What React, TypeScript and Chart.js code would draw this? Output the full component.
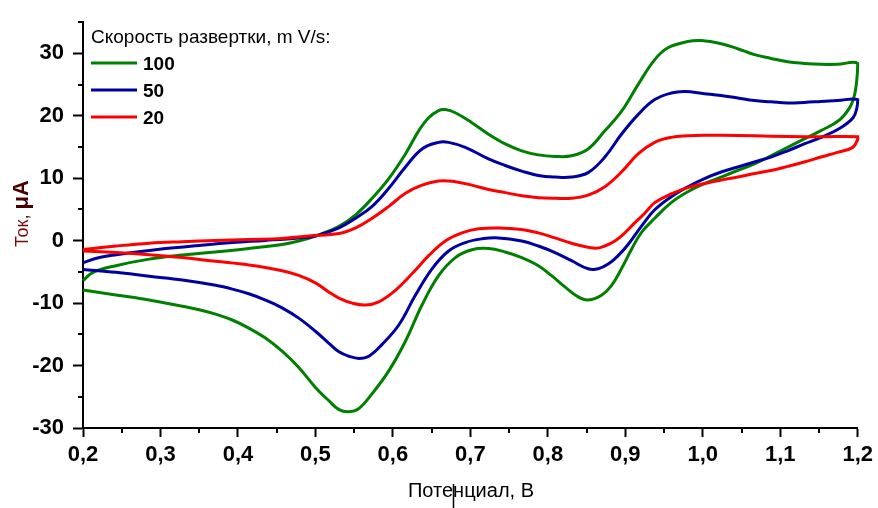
import React, { useEffect, useRef } from "react";
import { Chart, registerables } from "chart.js";

Chart.register(...registerables);

// ---- Data (potential, V / current, µA) — each loop: forward sweep then reverse ----
const seriesLabels = ["100", "50", "20"];
const seriesColors = ["#008000", "#0000A0", "#FF0000"];

const v100 = [
  0.2, 0.2125, 0.2425, 0.2855, 0.328, 0.371, 0.414, 0.457, 0.4785, 0.5, 0.5304, 0.5519, 0.5732, 0.5947, 0.6162, 0.6333,
  0.6462, 0.659, 0.6677, 0.6806, 0.7019, 0.7234, 0.7449, 0.7663, 0.7878, 0.8093, 0.8306, 0.852, 0.8736, 0.895, 0.9165,
  0.938, 0.9551, 0.9808, 0.998, 1.0237, 1.0452, 1.0667, 1.088, 1.1095, 1.131, 1.1524, 1.1738, 1.2,
  1.199, 1.196, 1.19, 1.176, 1.152, 1.131, 1.1095, 1.088, 1.0667, 1.0452, 1.0237, 1.0023, 0.9808, 0.9593, 0.938, 0.9207,
  0.9079, 0.895, 0.8821, 0.8693, 0.852, 0.8392, 0.8221, 0.8049, 0.7878, 0.7663, 0.7449, 0.7234, 0.7019, 0.6806, 0.659,
  0.6376, 0.6162, 0.5947, 0.5732, 0.556, 0.5432, 0.5304, 0.5171, 0.5, 0.4785, 0.457, 0.4355, 0.414, 0.3927, 0.3712,
  0.35, 0.3283, 0.2855, 0.2425, 0.2,
];
const i100 = [
  -6.4, -5.1, -4.0, -2.95, -2.3, -1.8, -1.25, -0.6, -0.05, 0.75, 2.3, 4.15, 6.8, 9.95, 13.9, 17.6,
  19.7, 20.85, 21.0, 20.5, 18.9, 17.05, 15.5, 14.4, 13.75, 13.5, 13.6, 14.7, 17.6, 20.7, 25.0,
  29.0, 30.9, 31.9, 32.05, 31.55, 30.75, 29.8, 29.2, 28.65, 28.4, 28.25, 28.25, 28.4,
  26.0, 23.4, 21.4, 19.3, 17.6, 16.3, 14.95, 13.6, 12.3, 11.25, 10.2, 9.15, 7.85, 6.1, 3.6, 1.3,
  -1.4, -4.5, -7.2, -8.75, -9.5, -9.0, -7.4, -5.6, -4.0, -2.7, -1.8, -1.25, -1.45, -2.7, -5.6,
  -10.3, -16.1, -20.85, -24.5, -26.9, -27.4, -27.05, -25.6, -23.5, -20.3, -17.7, -15.6, -14.0, -12.7, -11.75,
  -11.05, -10.5, -9.5, -8.7, -7.9,
];

const v50 = [
  0.2, 0.2211, 0.264, 0.3068, 0.3498, 0.3927, 0.4355, 0.4785, 0.5, 0.5304, 0.5519, 0.5732, 0.5947, 0.6162, 0.6376, 0.659,
  0.6719, 0.6934, 0.7234, 0.7449, 0.7663, 0.7878, 0.8093, 0.8306, 0.852, 0.8736, 0.895, 0.9165, 0.938, 0.9593, 0.9766,
  1.0023, 1.0237, 1.0452, 1.0667, 1.088, 1.1095, 1.131, 1.1524, 1.1738, 1.2,
  1.199, 1.194, 1.178, 1.152, 1.131, 1.1095, 1.088, 1.0667, 1.0452, 1.0237, 1.0023, 0.9808, 0.9593, 0.938, 0.9207,
  0.9036, 0.8907, 0.8779, 0.865, 0.852, 0.8306, 0.8093, 0.7878, 0.7663, 0.7362, 0.7148, 0.6934, 0.6719, 0.6505, 0.629,
  0.6076, 0.5861, 0.569, 0.5562, 0.5432, 0.5304, 0.5171, 0.5, 0.4785, 0.457, 0.4355, 0.414, 0.3927, 0.3712, 0.3283,
  0.2855, 0.2425, 0.2,
];
const i50 = [
  -3.5, -2.7, -1.9, -1.25, -0.75, -0.3, 0.05, 0.45, 0.75, 2.05, 3.6, 5.5, 8.4, 11.8, 14.7, 15.75,
  15.75, 14.95, 13.1, 12.05, 11.15, 10.45, 10.2, 10.2, 10.9, 13.4, 17.05, 20.2, 22.6, 23.65, 23.9,
  23.55, 23.25, 22.85, 22.45, 22.25, 22.05, 22.15, 22.3, 22.45, 22.6,
  21.3, 19.7, 18.1, 16.5, 15.5, 14.4, 13.4, 12.6, 11.8, 11.0, 9.95, 8.65, 7.05, 4.95, 2.3,
  -0.6, -2.4, -3.75, -4.5, -4.5, -3.2, -1.9, -0.85, -0.05, 0.45, 0.3, -0.3, -1.65, -4.5, -8.75,
  -13.5, -16.6, -18.5, -18.85, -18.5, -17.8, -16.4, -14.5, -12.4, -10.75, -9.5, -8.5, -7.75, -7.15, -6.3,
  -5.7, -5.05, -4.6,
];

const v20 = [
  0.2, 0.2425, 0.2855, 0.3283, 0.3712, 0.414, 0.457, 0.4915, 0.5304, 0.5519, 0.5732, 0.5947, 0.6162, 0.6376, 0.659,
  0.6806, 0.7019, 0.7234, 0.7449, 0.7663, 0.7878, 0.8093, 0.8306, 0.852, 0.8736, 0.895, 0.9165, 0.938, 0.9593, 0.9808,
  1.0023, 1.0237, 1.0667, 1.1095, 1.1524, 1.2,
  1.2, 1.1936, 1.1738, 1.1524, 1.131, 1.1095, 1.088, 1.0667, 1.0452, 1.0237, 1.0023, 0.9808, 0.9593, 0.938, 0.9251,
  0.9122, 0.8994, 0.8865, 0.8736, 0.8608, 0.8306, 0.8093, 0.7878, 0.7663, 0.7362, 0.7105, 0.6891, 0.6677,
  0.6462, 0.6247, 0.6033, 0.5818, 0.5647, 0.5475, 0.5304, 0.5171, 0.5, 0.4785, 0.457, 0.414, 0.3712, 0.3283, 0.2855,
  0.2425, 0.2,
];
const i20 = [
  -1.4, -0.85, -0.4, -0.15, 0.05, 0.2, 0.35, 0.75, 1.15, 2.05, 3.6, 5.5, 7.6, 8.9, 9.55,
  9.45, 8.9, 8.2, 7.7, 7.2, 6.9, 6.8, 6.8, 7.3, 8.65, 11.0, 13.9, 15.75, 16.55, 16.8,
  16.9, 16.9, 16.8, 16.7, 16.65, 16.65,
  16.25, 14.95, 14.15, 13.4, 12.6, 11.9, 11.25, 10.75, 10.2, 9.7, 9.15, 8.5, 7.5, 6.1, 4.4,
  2.85, 1.25, -0.05, -0.85, -1.2, -0.4, 0.45, 1.25, 1.8, 2.05, 1.9, 1.25, -0.05,
  -2.4, -5.3, -7.95, -9.8, -10.3, -10.0, -9.2, -8.2, -6.75, -5.55, -4.8, -3.9, -3.3, -2.7, -2.25,
  -1.9, -1.65,
];

const xMin = 0.2;
const xMax = 1.2;
const xStep = 0.1;
const yMin = -30;
const yMax = 35;
const yStep = 10;

const xTitle = "Потенциал, В";
const yTitleA = "Ток, ";
const yTitleB = "μA";
const legendTitle = "Скорость развертки, m V/s:";

const FONT = "'Liberation Sans', Arial, sans-serif";

const toXY = (xs: number[], ys: number[]) => xs.map((x, i) => ({ x, y: ys[i] }));

const decorPlugin = {
  id: "decor",
  afterDraw(chart: any) {
    const ctx = chart.ctx;
    const xs = chart.scales.x;
    const ys = chart.scales.y;
    const area = chart.chartArea;
    ctx.save();
    // minor ticks
    ctx.strokeStyle = "#000";
    ctx.lineWidth = 2;
    ctx.beginPath();
    for (let v = xMin + xStep / 2; v < xMax; v += xStep) {
      const px = Math.round(xs.getPixelForValue(v));
      ctx.moveTo(px, area.bottom);
      ctx.lineTo(px, area.bottom + 5);
    }
    for (let v = yMin + yStep / 2; v <= yMax + 1e-9; v += yStep) {
      const py = Math.round(ys.getPixelForValue(v));
      ctx.moveTo(area.left, py);
      ctx.lineTo(area.left - 5, py);
    }
    ctx.stroke();

    // x title
    ctx.fillStyle = "#000";
    ctx.font = `20px ${FONT}`;
    ctx.textAlign = "center";
    ctx.textBaseline = "alphabetic";
    ctx.fillText(xTitle, 471, 497);

    // y title (rotated, mixed weight)
    ctx.save();
    ctx.translate(28, 247);
    ctx.rotate(-Math.PI / 2);
    ctx.textAlign = "left";
    ctx.font = `18px ${FONT}`;
    ctx.fillStyle = "#7a0a0a";
    ctx.fillText(yTitleA, 0, 0);
    const w = ctx.measureText(yTitleA).width;
    ctx.font = `bold 22px ${FONT}`;
    ctx.fillStyle = "#4a0000";
    ctx.fillText(yTitleB, w, 0);
    ctx.restore();

    // legend
    ctx.textAlign = "left";
    ctx.fillStyle = "#000";
    ctx.font = `19px ${FONT}`;
    ctx.fillText(legendTitle, 91, 42.5);
    const rowY = [63, 90, 117];
    chart.data.datasets.forEach((ds: any, i: number) => {
      ctx.strokeStyle = ds.borderColor;
      ctx.lineWidth = 3;
      ctx.beginPath();
      ctx.moveTo(91, rowY[i]);
      ctx.lineTo(137, rowY[i]);
      ctx.stroke();
      ctx.fillStyle = "#000";
      ctx.font = `bold 19px ${FONT}`;
      ctx.fillText(ds.label, 143, rowY[i] + 7);
    });

    // small stray mark below the x title
    ctx.strokeStyle = "#000";
    ctx.lineWidth = 1.5;
    ctx.beginPath();
    ctx.moveTo(453.5, 484);
    ctx.lineTo(453.5, 508);
    ctx.stroke();
    ctx.restore();
  },
};

export default function App() {
  const ref = useRef<HTMLCanvasElement | null>(null);

  useEffect(() => {
    if (!ref.current) return;
    const vs = [v100, v50, v20];
    const is = [i100, i50, i20];
    const chart = new Chart(ref.current, {
      type: "scatter",
      data: {
        datasets: seriesLabels.map((label, k) => ({
          label,
          data: toXY(vs[k], is[k]),
          showLine: true,
          borderColor: seriesColors[k],
          backgroundColor: seriesColors[k],
          borderWidth: 3,
          pointRadius: 0,
          tension: 0.4,
          clip: false as any,
          order: 2 - k,
        })),
      },
      options: {
        responsive: false,
        animation: false,
        events: [],
        layout: { padding: { left: 0, right: 18, top: 15, bottom: 0 } },
        plugins: {
          legend: { display: false },
          tooltip: { enabled: false },
        },
        scales: {
          x: {
            type: "linear",
            position: "bottom",
            min: xMin,
            max: xMax,
            afterFit: (s: any) => {
              s.height = 80;
            },
            ticks: {
              stepSize: xStep,
              color: "#000",
              padding: 5,
              font: { family: FONT, size: 22, weight: "bold" },
              callback: (v: any) => Number(v).toFixed(1).replace(".", ","),
            },
            grid: {
              display: true,
              drawOnChartArea: false,
              drawTicks: true,
              tickLength: 9,
              tickWidth: 2,
              tickColor: "#000",
            },
            border: { display: true, color: "#000", width: 2 },
          },
          y: {
            type: "linear",
            position: "left",
            min: yMin,
            max: yMax,
            afterFit: (s: any) => {
              s.width = 83;
            },
            afterBuildTicks: (s: any) => {
              s.ticks = s.ticks.filter((t: any) => Math.abs(t.value % yStep) < 1e-6);
            },
            ticks: {
              stepSize: yStep,
              color: "#000",
              padding: 9,
              font: { family: FONT, size: 22, weight: "bold" },
              callback: (v: any) => String(Math.round(Number(v))),
            },
            grid: {
              display: true,
              drawOnChartArea: false,
              drawTicks: true,
              tickLength: 10,
              tickWidth: 2,
              tickColor: "#000",
            },
            border: { display: true, color: "#000", width: 2 },
          },
        },
      },
      plugins: [decorPlugin],
    });
    return () => chart.destroy();
  }, []);

  return (
    <div style={{ position: "fixed", left: 0, top: 0, width: 878, height: 508, background: "#fff" }}>
      <canvas ref={ref} width={878} height={508} style={{ display: "block" }} />
    </div>
  );
}
